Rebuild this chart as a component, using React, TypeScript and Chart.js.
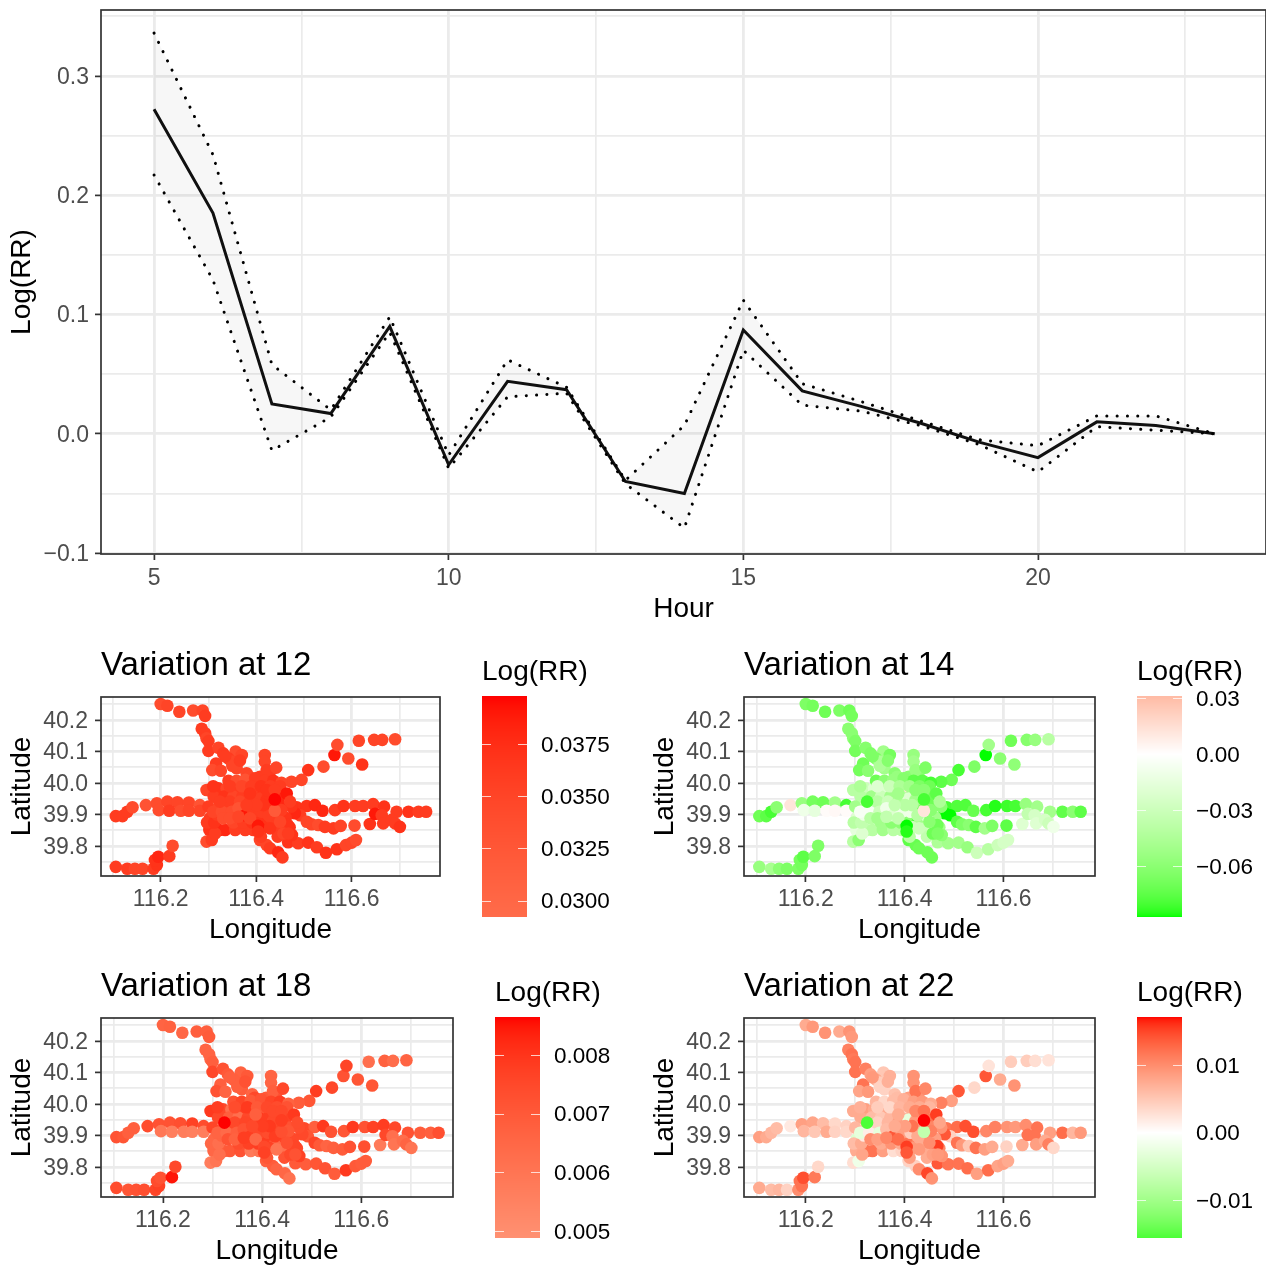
import React, { useEffect, useRef } from "react";
import { Chart, registerables } from "chart.js";

Chart.register(...registerables);

const FONT = "'Liberation Sans', Arial, sans-serif";

// ---- Top panel: hourly effect with confidence band ----
const hours = [5, 6, 7, 8, 9, 10, 11, 12, 13, 14, 15, 16, 17, 18, 19, 20, 21, 22, 23];
const logRR = [0.272, 0.185, 0.025, 0.017, 0.09, -0.026, 0.044, 0.037, -0.04, -0.05, 0.087, 0.036, 0.023, 0.009, -0.007, -0.02, 0.01, 0.007, 0];
const upperCI = [0.336, 0.234, 0.058, 0.02, 0.098, -0.018, 0.062, 0.039, -0.039, 0.007, 0.112, 0.042, 0.027, 0.011, -0.005, -0.01, 0.015, 0.015, 0];
const lowerCI = [0.217, 0.129, -0.014, 0.014, 0.085, -0.029, 0.031, 0.034, -0.042, -0.079, 0.07, 0.024, 0.019, 0.007, -0.009, -0.032, 0.006, 0.003, 0];

// ---- Station locations and values at each hour (same order in every list) ----
const lon = [
  116.200, 116.214, 116.239, 116.268, 116.288, 116.293, 116.286, 116.293, 116.296, 116.300,
  116.300, 116.321, 116.331, 116.357, 116.370, 116.342, 116.316, 116.308, 116.326, 116.359, 116.349, 116.380,
  116.350, 116.366, 116.335, 116.429, 116.408, 116.385,
  116.418, 116.418, 116.422, 116.442, 116.509, 116.495, 116.474, 116.541, 116.564, 116.570, 116.593, 116.622, 116.615, 116.647, 116.664, 116.691,
  116.106, 116.120, 116.130, 116.141, 116.169, 116.192, 116.214, 116.235, 116.259, 116.282, 116.196, 116.218, 116.242, 116.259, 116.282,
  116.106, 116.130, 116.146, 116.162, 116.185, 116.192, 116.188, 116.195, 116.218, 116.225,
  116.485, 116.506, 116.523, 116.539, 116.565, 116.583, 116.607, 116.624, 116.645, 116.668, 116.694, 116.719, 116.740, 116.756,
  116.492, 116.481, 116.506, 116.516, 116.530, 116.544, 116.562, 116.577, 116.606, 116.638, 116.649, 116.663, 116.666, 116.684, 116.691, 116.701,
  116.467, 116.488, 116.509, 116.527, 116.546, 116.569, 116.588, 116.600, 116.609,
  116.408, 116.422, 116.429, 116.446, 116.455,
  116.323, 116.335, 116.356, 116.377, 116.394,
  116.300, 116.302, 116.296, 116.307, 116.314, 116.303,
  116.296, 116.321, 116.338, 116.359, 116.377, 116.398,
  116.342, 116.359, 116.377, 116.398, 116.418, 116.436, 116.453,
  116.311, 116.333, 116.352, 116.371, 116.393, 116.413, 116.431, 116.449,
  116.300, 116.322, 116.341, 116.359, 116.378, 116.396, 116.418, 116.437, 116.455, 116.474,
  116.316, 116.375, 116.396, 116.417, 116.438, 116.462,
  116.297, 116.312, 116.352, 116.373, 116.392, 116.412, 116.432,
  116.318, 116.338, 116.405, 116.445,
  116.310, 116.345, 116.370, 116.390, 116.410, 116.430, 116.450,
  116.415, 116.445, 116.470,
  116.410, 116.445, 116.475,
  116.345, 116.366, 116.387, 116.408, 116.422, 116.464, 116.471, 116.310, 116.328, 116.349, 116.363,
  116.377, 116.394, 116.412, 116.426, 116.453, 116.331, 116.345, 116.363, 116.387, 116.404, 116.404,
  116.429, 116.466, 116.457, 116.467, 116.450, 116.415, 116.401, 116.380, 116.422, 116.439, 116.387,
  116.439, 116.324, 116.439,
];
const lat = [
  40.251, 40.245, 40.226, 40.230, 40.230, 40.213, 40.172, 40.158, 40.142, 40.133,
  40.102, 40.112, 40.094, 40.100, 40.089, 40.078, 40.062, 40.041, 40.039, 40.047, 40.068, 40.031,
  40.055, 40.071, 40.085, 40.036, 40.020, 40.020,
  40.089, 40.068, 40.041, 40.049, 40.041, 40.010, 40.004, 40.052, 40.089, 40.121, 40.078, 40.059, 40.134, 40.137, 40.137, 40.139,
  39.895, 39.895, 39.909, 39.923, 39.930, 39.936, 39.941, 39.939, 39.938, 39.930, 39.914, 39.912, 39.912, 39.912, 39.912,
  39.734, 39.728, 39.728, 39.728, 39.728, 39.740, 39.756, 39.766, 39.768, 39.801,
  39.923, 39.927, 39.930, 39.912, 39.914, 39.927, 39.927, 39.927, 39.933, 39.925, 39.909, 39.909, 39.909, 39.909,
  39.898, 39.904, 39.877, 39.869, 39.867, 39.861, 39.856, 39.864, 39.865, 39.870, 39.902, 39.898, 39.872, 39.883, 39.872, 39.861,
  39.812, 39.809, 39.811, 39.796, 39.779, 39.790, 39.803, 39.811, 39.819,
  39.819, 39.803, 39.793, 39.780, 39.764,
  39.851, 39.851, 39.851, 39.851, 39.851,
  39.872, 39.851, 39.814, 39.819, 39.840, 39.888,
  39.978, 39.983, 39.983, 39.983, 39.983, 39.978,
  40.007, 40.007, 40.010, 40.015, 40.007, 40.007, 40.001,
  39.957, 39.957, 39.957, 39.957, 39.957, 39.957, 39.957, 39.957,
  39.925, 39.925, 39.925, 39.925, 39.925, 39.925, 39.925, 39.925, 39.925, 39.925,
  39.890, 39.890, 39.890, 39.890, 39.890, 39.890,
  39.875, 39.875, 39.875, 39.875, 39.875, 39.875, 39.875,
  39.900, 39.900, 39.895, 39.895,
  39.990, 39.990, 39.990, 39.990, 39.990, 39.990, 39.990,
  39.860, 39.860, 39.860,
  39.830, 39.830, 39.835,
  39.941, 39.941, 39.941, 39.951, 39.946, 39.967, 39.941, 39.909, 39.909, 39.909, 39.920,
  39.898, 39.909, 39.909, 39.898, 39.914, 39.888, 39.888, 39.893, 39.888, 39.864, 39.846,
  39.856, 39.867, 39.840, 39.840, 39.877, 39.930, 39.930, 39.930, 39.978, 39.978, 39.967,
  39.912, 39.941, 39.948,
];
const rr12 = [
  .034, .035, .035, .034, .035, .036, .036, .036, .035, .036,
  .036, .035, .036, .034, .035, .036, .036, .034, .035, .035, .035, .035,
  .035, .036, .036, .036, .036, .035,
  .035, .035, .036, .035, .037, .035, .035, .034, .039, .034, .034, .037, .035, .035, .035, .034,
  .036, .036, .036, .034, .033, .034, .035, .035, .035, .033, .034, .036, .034, .035, .035,
  .036, .036, .035, .035, .036, .037, .037, .038, .036, .034,
  .037, .037, .038, .038, .036, .037, .036, .036, .036, .037, .036, .037, .036, .036,
  .036, .038, .035, .035, .034, .036, .036, .035, .034, .037, .039, .036, .036, .036, .036, .037,
  .037, .036, .037, .036, .037, .037, .035, .035, .034,
  .035, .035, .036, .038, .036,
  .038, .038, .036, .036, .036,
  .035, .037, .034, .036, .036, .036,
  .035, .037, .035, .036, .035, .036,
  .036, .034, .033, .036, .036, .037, .035,
  .036, .037, .035, .036, .036, .037, .037, .038,
  .036, .035, .036, .035, .036, .037, .037, .037, .038, .037,
  .036, .035, .037, .037, .036, .037,
  .036, .037, .035, .036, .037, .037, .036,
  .036, .035, .037, .036,
  .037, .036, .035, .036, .037, .036, .036,
  .037, .036, .037,
  .036, .036, .037,
  .036, .035, .036, .036, .037, .039, .036, .035, .034, .034, .033,
  .039, .036, .036, .036, .036, .034, .034, .035, .035, .039, .037,
  .037, .037, .035, .036, .035, .037, .036, .036, .037, .036, .037,
  .032, .036, .0397,
];
const rr14 = [
  -.065, -.068, -.07, -.065, -.07, -.068, -.06, -.06, -.06, -.065,
  -.068, -.062, -.065, -.05, -.068, -.065, -.07, -.068, -.06, -.05, -.045, -.06,
  -.045, -.062, -.065, -.06, -.06, -.055,
  -.055, -.05, -.055, -.065, -.08, -.07, -.075, -.065, -.087, -.05, -.06, -.058, -.07, -.062, -.055, -.04,
  -.07, -.075, -.08, -.06, .012, -.055, -.068, -.07, -.05, -.08, -.01, -.015, .002, .003, .002,
  -.055, -.048, -.06, -.065, -.065, -.068, -.068, -.075, -.065, -.065,
  -.08, -.078, -.078, -.072, -.08, -.085, -.082, -.08, -.055, -.05, -.05, -.074, -.06, -.075,
  -.087, -.087, -.075, -.065, -.06, -.075, -.05, -.065, -.075, -.02, -.035, -.025, -.02, -.025, -.03, -.01,
  -.045, -.05, -.05, -.055, -.03, -.04, -.03, -.025, -.025,
  -.075, -.072, -.07, -.07, -.07,
  -.035, -.04, -.05, -.04, -.04,
  -.02, -.015, -.04, -.06, -.02, -.02,
  -.04, -.03, -.02, -.02, -.04, .012,
  -.07, -.06, -.055, -.062, -.075, -.075, -.08,
  -.04, -.05, -.03, -.05, -.04, -.055, -.065, -.07,
  -.05, -.04, -.035, -.02, -.045, -.04, -.055, -.065, -.07, -.06,
  -.02, -.025, -.01, -.04, -.05, -.05,
  -.04, -.035, -.05, -.06, -.06, -.08, -.05,
  -.01, -.005, -.06, -.02,
  -.045, -.02, -.03, -.045, -.05, -.065, -.07,
  -.03, -.03, -.05,
  -.04, -.035, -.06,
  -.04, -.03, -.045, -.02, -.05, -.075, -.045, -.005, -.005, -.03, -.01,
  -.02, -.01, -.01, -.04, -.06, -.04, -.05, -.035, -.035, -.087, -.085,
  -.03, -.07, -.07, -.065, -.06, -.04, -.04, -.035, -.06, -.06, -.05,
  .012, -.08, -.08,
];
const rr18 = [
  .0066, .0067, .0065, .0068, .0068, .0069, .0066, .0066, .0066, .0068,
  .0075, .0072, .007, .0067, .007, .0068, .0068, .0072, .0066, .0069, .0068, .0066,
  .0068, .0072, .0068, .0072, .007, .0075,
  .0066, .0066, .0068, .0075, .0078, .0071, .0069, .0075, .0072, .0076, .0071, .0071, .0062, .0067, .0063, .0066,
  .0072, .0071, .0068, .0068, .0074, .0072, .0072, .0073, .0077, .0074, .0059, .0056, .0057, .0056, .0057,
  .0074, .0071, .0072, .0073, .0076, .0077, .0074, .0072, .0085, .0075,
  .0075, .0068, .0079, .0072, .0071, .0079, .0072, .0077, .0078, .0075, .0072, .0069, .0068, .0073,
  .0071, .0075, .0076, .007, .0066, .0068, .0069, .0072, .0073, .0058, .0075, .0062, .006, .0063, .0066, .006,
  .007, .0069, .0071, .0072, .0069, .0079, .007, .0069, .0069,
  .0068, .0069, .0066, .0065, .0061,
  .0069, .007, .0072, .0058, .006,
  .0066, .0065, .0057, .006, .0062, .0065,
  .0079, .0075, .0062, .0078, .0079, .007,
  .0072, .0076, .007, .0072, .0076, .0078, .0067,
  .0075, .0068, .0062, .0075, .0079, .0078, .0078, .0077,
  .0076, .0072, .0075, .0068, .0079, .0077, .0078, .0076, .0072, .0074,
  .0071, .0076, .0079, .0077, .0076, .0075,
  .0065, .0062, .0074, .0077, .0078, .0072, .0064,
  .0066, .0072, .0078, .0076,
  .0078, .0074, .0079, .007, .0075, .0074, .0072,
  .0077, .0062, .0075,
  .0071, .0072, .0077,
  .0075, .0076, .0078, .0078, .0075, .0079, .0074, .0066, .0064, .0068, .0072,
  .0078, .0075, .0074, .0078, .0071, .0072, .0067, .0078, .0065, .0075, .0077,
  .006, .0076, .0075, .0072, .0073, .0079, .0078, .0075, .0075, .0075, .0068,
  .0073, .00865, .0078,
];
const rr22 = [
  .0075, .009, .0095, .0075, .0095, .009, .011, .012, .0115, .012,
  .012, .011, .0085, .005, .007, .0075, .012, .008, .009, .004, .0045, .0055,
  .004, .007, .009, .0095, .0085, .006,
  .0095, .0095, .012, .0105, .014, .0085, .011, .0035, .014, .0025, .0075, .0095, .0045, .0045, .003, .0025,
  .0085, .0075, .0065, .006, .002, .0085, .008, .006, .0035, .004, .0065, .005, .0075, .004, .0035,
  .0075, .006, .0065, .004, .01, .012, .012, .0145, .0115, .0035,
  .012, .0125, .0145, .0145, .0105, .011, .0095, .009, .01, .012, .0085, .0125, .0065, .009,
  .004, .014, .012, .009, .005, .012, .0085, .0075, .004, .0075, .012, .012, .0085, .0075, .011, .0035,
  .014, .012, .012, .0125, .0085, .0125, .008, .0085, .0075,
  .004, .004, .01, .015, .0095,
  .012, .012, .0085, .003, .004,
  .003, .0075, .003, -.002, .008, -.004,
  .0075, .0085, .0075, .0075, .0085, .003,
  .0065, .0035, .006, .007, .0085, .009, .0075,
  .0075, .006, .005, .0065, .007, .009, .0075, .012,
  .0065, .0055, .004, .0045, .006, .0065, .0085, .0075, .0105, .0095,
  .006, .0085, .0075, .0075, .006, .0085,
  .006, .0075, .0075, .0095, .0075, .0105, .0075,
  .002, .0035, .012, .0075,
  .007, .0045, .0035, .0065, .0075, .0075, .0065,
  .009, .0075, .0105,
  .0085, .0075, .0095,
  .004, .0065, .0085, -.003, .009, .0155, .008, -.003, .0015, -.003, .006,
  .014, .0085, .0045, .0075, .011, .01, .0085, .0105, .0125, .0155, .014,
  .009, .0155, .0085, .009, .01, .012, .0085, .0075, .0105, .012, .0075,
  -.007, -.0156, .0172,
];

// ---- Colour bars ----
const ticks12 = [0.03, 0.0325, 0.035, 0.0375];
const ticks14 = [-0.06, -0.03, 0, 0.03];
const ticks18 = [0.005, 0.006, 0.007, 0.008];
const ticks22 = [-0.01, 0, 0.01];

// Lab interpolation, as in a diverging white-centred scale
function labToRgb(L: number, a: number, b: number) {
  const fy = (L + 16) / 116, fx = fy + a / 500, fz = fy - b / 200;
  const inv = (t: number) => (t > 6 / 29 ? t * t * t : 3 * (6 / 29) * (6 / 29) * (t - 4 / 29));
  const X = 0.95047 * inv(fx), Y = inv(fy), Z = 1.08883 * inv(fz);
  const lin = [
    3.2406 * X - 1.5372 * Y - 0.4986 * Z,
    -0.9689 * X + 1.8758 * Y + 0.0415 * Z,
    0.0557 * X - 0.204 * Y + 1.057 * Z,
  ];
  const g = lin.map((c) => {
    const v = c <= 0.0031308 ? 12.92 * c : 1.055 * Math.pow(c, 1 / 2.4) - 0.055;
    return Math.round(Math.min(1, Math.max(0, v)) * 255);
  });
  return `rgb(${g[0]},${g[1]},${g[2]})`;
}
function colourFor(v: number, limit: number) {
  const t = Math.min(1, Math.abs(v) / limit);
  return v >= 0
    ? labToRgb(100 - 46.76 * t, 80.09 * t, 67.2 * t)
    : labToRgb(100 - 12.27 * t, -86.18 * t, 83.18 * t);
}

const GRID = "#EBEBEB";
const DARK = "#333333";
const TICK_TEXT = "#4D4D4D";

const boxPlugin = {
  id: "panelBox",
  afterDraw(chart: any) {
    const { ctx, chartArea: a } = chart;
    ctx.save();
    ctx.strokeStyle = DARK;
    ctx.lineWidth = 1.7;
    ctx.strokeRect(a.left, a.top, a.right - a.left, a.bottom - a.top);
    ctx.restore();
  },
};

const minusFix = (s: string) => s.replace("-", "\u2212");

function axis(opts: {
  min: number; max: number; major: number[]; minor: number[]; digits: number;
  title: string; size: number; titlePad: any; pos: string; tickPad: number;
}) {
  const isMajor = (v: number) => opts.major.some((m) => Math.abs(m - v) < 1e-9);
  const horizontal = opts.pos === "bottom";
  return {
    type: "linear",
    position: opts.pos,
    min: opts.min,
    max: opts.max,
    afterBuildTicks(scale: any) {
      scale.ticks = [...opts.minor, ...opts.major].sort((a, b) => a - b).map((value) => ({ value }));
    },
    afterFit(s: any) {
      if (horizontal) { s.height = opts.size; s.paddingLeft = 0; s.paddingRight = 0; }
      else { s.width = opts.size; s.paddingTop = 0; s.paddingBottom = 0; }
    },
    border: { display: false },
    grid: {
      color: GRID,
      lineWidth: (c: any) => (c.tick && isMajor(c.tick.value) ? 2.8 : 1.7),
      tickColor: (c: any) => (c.tick && isMajor(c.tick.value) ? DARK : "rgba(0,0,0,0)"),
      tickWidth: 1.7,
      tickLength: 6,
    },
    ticks: {
      autoSkip: false,
      maxRotation: 0,
      minRotation: 0,
      padding: opts.tickPad,
      labelOffset: horizontal ? 0 : 1.5,
      color: TICK_TEXT,
      font: { family: FONT, size: 23 },
      callback: (v: number) => (isMajor(v) ? minusFix(v.toFixed(opts.digits)) : ""),
    },
    title: {
      display: true,
      text: opts.title,
      color: "#000",
      padding: opts.titlePad,
      font: { family: FONT, size: 28 },
    },
  };
}

function topConfig() {
  const pts = (ys: number[]) => hours.map((x, i) => ({ x, y: ys[i] }));
  const dotted = { borderColor: "#000", borderWidth: 3, borderDash: [0.1, 10.2], borderCapStyle: "round", pointRadius: 0, showLine: true, tension: 0 };
  return {
    type: "scatter",
    data: {
      datasets: [
        { label: "Lower", data: pts(lowerCI), ...dotted, fill: false },
        { label: "Upper", data: pts(upperCI), ...dotted, fill: { target: 0 }, backgroundColor: "rgba(0,0,0,0.03)" },
        { label: "Log(RR)", data: pts(logRR), borderColor: "#111", borderWidth: 3, pointRadius: 0, showLine: true, tension: 0, fill: false },
      ],
    },
    options: {
      animation: false, responsive: false, devicePixelRatio: 1,
      layout: { autoPadding: false, padding: { top: 10 } },
      plugins: { legend: { display: false }, tooltip: { enabled: false }, title: { display: false } },
      scales: {
        x: axis({ min: 4.1, max: 23.87, major: [5, 10, 15, 20], minor: [7.5, 12.5, 17.5, 22.5], digits: 0, title: "Hour", pos: "bottom",
          size: 86, titlePad: { top: 0, bottom: 14 }, tickPad: 5 }),
        y: axis({ min: -0.1008, max: 0.3553, major: [-0.1, 0, 0.1, 0.2, 0.3], minor: [-0.05, 0.05, 0.15, 0.25, 0.35], digits: 1, title: "Log(RR)", pos: "left",
          size: 101, titlePad: { top: 5, bottom: 0 }, tickPad: 6 }),
      },
    },
    plugins: [boxPlugin],
  };
}

const LON_MIN = 116.075, LON_MAX = 116.785, LAT_MIN = 39.705, LAT_MAX = 40.273;

function mapConfig(title: string, values: number[], limit: number) {
  return {
    type: "scatter",
    data: {
      datasets: [{
        label: title,
        data: lon.map((x, i) => ({ x, y: lat[i] })),
        backgroundColor: values.map((v) => colourFor(v, limit)),
        borderWidth: 0,
        pointRadius: 6.3,
      }],
    },
    options: {
      animation: false, responsive: false, devicePixelRatio: 1,
      layout: { autoPadding: false, padding: { right: 4 } },
      plugins: {
        legend: { display: false }, tooltip: { enabled: false },
        title: {
          display: true, text: title, align: "start", fullSize: false, color: "#000",
          font: { family: FONT, size: 33, weight: "normal" }, padding: { top: 6, bottom: 11.4 },
        },
      },
      scales: {
        x: axis({ min: LON_MIN, max: LON_MAX, major: [116.2, 116.4, 116.6], minor: [116.1, 116.3, 116.5, 116.7], digits: 1, title: "Longitude", pos: "bottom",
          size: 74, titlePad: { top: 0, bottom: 3 }, tickPad: 4 }),
        y: axis({ min: LAT_MIN, max: LAT_MAX, major: [39.8, 39.9, 40, 40.1, 40.2], minor: [39.75, 39.85, 39.95, 40.05, 40.15, 40.25], digits: 1, title: "Latitude", pos: "left",
          size: 101, titlePad: { top: 5, bottom: 0 }, tickPad: 7 }),
      },
    },
    plugins: [boxPlugin],
  };
}

function barConfig(min: number, max: number, limit: number, ticks: number[], digits: number) {
  const rampPlugin = {
    id: "colourRamp",
    beforeDatasetsDraw(chart: any) {
      const { ctx, chartArea: a, scales } = chart;
      const y = scales.y;
      ctx.save();
      for (let p = Math.floor(a.top); p < a.bottom; p++) {
        ctx.fillStyle = colourFor(y.getValueForPixel(p + 0.5), limit);
        ctx.fillRect(a.left, p, a.right - a.left, 1);
      }
      ctx.strokeStyle = "rgba(255,255,255,0.75)";
      ctx.lineWidth = 1;
      const w = (a.right - a.left) / 5;
      ticks.forEach((t) => {
        const py = Math.round(y.getPixelForValue(t)) + 0.5;
        ctx.beginPath();
        ctx.moveTo(a.left, py); ctx.lineTo(a.left + w, py);
        ctx.moveTo(a.right - w, py); ctx.lineTo(a.right, py);
        ctx.stroke();
      });
      ctx.restore();
    },
  };
  return {
    type: "scatter",
    data: { datasets: [] },
    options: {
      animation: false, responsive: false, devicePixelRatio: 1,
      layout: { autoPadding: false, padding: { bottom: 13 } },
      plugins: {
        legend: { display: false }, tooltip: { enabled: false },
        title: {
          display: true, text: "Log(RR)", align: "start", color: "#000",
          font: { family: FONT, size: 28, weight: "normal" }, padding: { top: 15, bottom: 7.4 },
        },
      },
      scales: {
        x: { display: false, min: 0, max: 1 },
        y: {
          type: "linear", position: "right", min, max,
          afterBuildTicks(scale: any) { scale.ticks = ticks.map((value) => ({ value })); },
          afterFit(s: any) { s.width = s.chart.width - 45; s.paddingTop = 0; s.paddingBottom = 0; },
          border: { display: false },
          grid: { display: false, drawTicks: false, tickLength: 0 },
          ticks: {
            autoSkip: false, padding: 14, color: "#000", crossAlign: "near", labelOffset: 1.5,
            font: { family: FONT, size: 22.5 },
            callback: (v: number) => minusFix(v.toFixed(digits)),
          },
        },
      },
    },
    plugins: [rampPlugin],
  };
}

function ChartBox({ make, left, top, width, height }: any) {
  const ref = useRef<HTMLCanvasElement>(null);
  useEffect(() => {
    const chart = new Chart(ref.current as any, make() as any);
    return () => chart.destroy();
  }, []);
  return <canvas ref={ref} width={width} height={height} style={{ position: "absolute", left, top, width, height, display: "block" }} />;
}

const LIMIT12 = 0.0398, LIMIT14 = 0.0871, LIMIT18 = 0.00865, LIMIT22 = 0.01716;

export default function App() {
  return (
    <div style={{ position: "absolute", left: 0, top: 0, width: 1266, height: 1266, overflow: "hidden", background: "#fff" }}>
      <ChartBox make={topConfig} left={0} top={0} width={1266} height={640} />
      <ChartBox make={() => mapConfig("Variation at 12", rr12, LIMIT12)} left={0} top={640} width={444} height={310} />
      <ChartBox make={() => mapConfig("Variation at 14", rr14, LIMIT14)} left={643} top={640} width={456} height={310} />
      <ChartBox make={() => mapConfig("Variation at 18", rr18, LIMIT18)} left={0} top={961} width={457} height={310} />
      <ChartBox make={() => mapConfig("Variation at 22", rr22, LIMIT22)} left={643} top={961} width={456} height={310} />
      <ChartBox make={() => barConfig(0.02921, 0.0398, LIMIT12, ticks12, 4)} left={482} top={640} width={160} height={290} />
      <ChartBox make={() => barConfig(-0.0871, 0.03107, LIMIT14, ticks14, 2)} left={1137} top={640} width={129} height={290} />
      <ChartBox make={() => barConfig(0.00488, 0.00865, LIMIT18, ticks18, 3)} left={495} top={961} width={160} height={290} />
      <ChartBox make={() => barConfig(-0.01567, 0.01716, LIMIT22, ticks22, 2)} left={1137} top={961} width={129} height={290} />
    </div>
  );
}
